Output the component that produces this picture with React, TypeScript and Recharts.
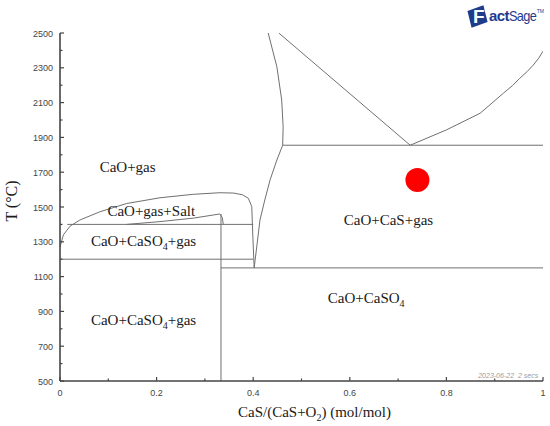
import { ComposedChart, XAxis, YAxis, Line, Scatter, Label } from "recharts";

// x = CaS/(CaS+O2) (mol/mol), y = T (°C)

// big dome, CaO+gas / CaO+gas+Salt boundary
const domeCurve = [
  { x: 0, y: 1270 },
  { x: 0.007, y: 1340 },
  { x: 0.021, y: 1390 },
  { x: 0.041, y: 1425 },
  { x: 0.083, y: 1473 },
  { x: 0.138, y: 1520 },
  { x: 0.207, y: 1553 },
  { x: 0.276, y: 1573 },
  { x: 0.331, y: 1582 },
  { x: 0.36, y: 1580 },
  { x: 0.378, y: 1570 },
  { x: 0.39, y: 1550 },
  { x: 0.397, y: 1502 },
  { x: 0.399, y: 1350 },
  { x: 0.402, y: 1150 },
];

// small salt wedge on top of the 1400 line
const saltCurve = [
  { x: 0.138, y: 1400 },
  { x: 0.207, y: 1416 },
  { x: 0.276, y: 1436 },
  { x: 0.331, y: 1460 },
  { x: 0.336, y: 1440 },
  { x: 0.338, y: 1400 },
];

// steep CaS-side curve from the top down to the 1150 invariant
const steepCurve = [
  { x: 0.431, y: 2500 },
  { x: 0.449, y: 2306 },
  { x: 0.459, y: 2115 },
  { x: 0.462, y: 1961 },
  { x: 0.461, y: 1855 },
  { x: 0.449, y: 1770 },
  { x: 0.435, y: 1656 },
  { x: 0.424, y: 1540 },
  { x: 0.414, y: 1425 },
  { x: 0.409, y: 1310 },
  { x: 0.404, y: 1195 },
  { x: 0.402, y: 1150 },
];

const vLeft = [
  { x: 0.453, y: 2500 },
  { x: 0.725, y: 1855 },
];

const vRight = [
  { x: 0.725, y: 1855 },
  { x: 0.8, y: 1943 },
  { x: 0.87, y: 2039 },
  { x: 0.918, y: 2154 },
  { x: 0.937, y: 2198 },
  { x: 0.952, y: 2240 },
  { x: 0.967, y: 2278 },
  { x: 0.98, y: 2316 },
  { x: 0.991, y: 2355 },
  { x: 1, y: 2395 },
];

const line1855 = [
  { x: 0.461, y: 1855 },
  { x: 1, y: 1855 },
];
const line1400 = [
  { x: 0.015, y: 1400 },
  { x: 0.4, y: 1400 },
];
const line1200 = [
  { x: 0, y: 1200 },
  { x: 0.4, y: 1200 },
];
const line1150 = [
  { x: 0.3333, y: 1150 },
  { x: 1, y: 1150 },
];
const lineThird = [
  { x: 0.3333, y: 500 },
  { x: 0.3333, y: 1460 },
];

const boundaries = [
  domeCurve,
  saltCurve,
  steepCurve,
  vLeft,
  vRight,
  line1855,
  line1400,
  line1200,
  line1150,
  lineThird,
];

const regionLabels = [
  { x: 0.14, y: 1703, text: "CaO+gas" },
  { x: 0.189, y: 1448, text: "CaO+gas+Salt" },
  { x: 0.173, y: 1276, text: "CaO+CaSO4+gas" },
  { x: 0.173, y: 822, text: "CaO+CaSO4+gas" },
  { x: 0.68, y: 1397, text: "CaO+CaS+gas" },
  { x: 0.634, y: 948, text: "CaO+CaSO4" },
];

const marker = [{ x: 0.74, y: 1655 }];
const stamp = [{ x: 0.99, y: 517, text: "2023-06-22  2 secs" }];

const xMajor = [0, 0.2, 0.4, 0.6, 0.8, 1];
const xLabels = ["0", "0.2", "0.4", "0.6", "0.8", "1"];
const xMinor = [0.1, 0.3, 0.5, 0.7, 0.9];
const yMajor = [500, 700, 900, 1100, 1300, 1500, 1700, 1900, 2100, 2300, 2500];
const yMinor = [600, 800, 1000, 1200, 1400, 1600, 1800, 2000, 2200, 2400];

const xTicks = [...xMajor, ...xMinor].sort((a, b) => a - b);
const yTicks = [...yMajor, ...yMinor].sort((a, b) => a - b);

const AXIS = "#454545";
const CURVE = "#707070";
const SERIF = '"Liberation Serif", "Times New Roman", serif';
const SANS = '"Liberation Sans", Arial, sans-serif';

// digits after a letter become subscripts (CaSO4, O2)
function chem(s: string) {
  const parts = s.split(/(\d+)/).filter(Boolean);
  let shifted = false;
  return parts.map((p, i) => {
    if (/^\d+$/.test(p)) {
      shifted = true;
      return (
        <tspan key={i} dy={4} fontSize={10}>
          {p}
        </tspan>
      );
    }
    if (shifted) {
      shifted = false;
      return (
        <tspan key={i} dy={-4}>
          {p}
        </tspan>
      );
    }
    return <tspan key={i}>{p}</tspan>;
  });
}

const BottomTick = ({ x, y, payload }: any) => {
  const i = xMajor.indexOf(payload.value);
  const len = i >= 0 ? 4 : 2.5;
  return (
    <g>
      <line x1={x} x2={x} y1={y} y2={y - len} stroke={AXIS} strokeWidth={1.2} />
      {i >= 0 && (
        <text x={x} y={y + 14.5} textAnchor="middle" fontSize={9} fill="#444" fontFamily={SANS}>
          {xLabels[i]}
        </text>
      )}
    </g>
  );
};

const TopTick = ({ x, y, payload }: any) => {
  const len = xMajor.includes(payload.value) ? 4 : 2.5;
  return <line x1={x} x2={x} y1={y} y2={y + len} stroke={AXIS} strokeWidth={1.2} />;
};

const LeftTick = ({ x, y, payload }: any) => {
  const major = yMajor.includes(payload.value);
  return (
    <g>
      <line x1={x} x2={x + (major ? 4 : 2.5)} y1={y} y2={y} stroke={AXIS} strokeWidth={1.2} />
      {major && (
        <text x={x - 7} y={y + 3.5} textAnchor="end" fontSize={9} fill="#444" fontFamily={SANS}>
          {payload.value}
        </text>
      )}
    </g>
  );
};

const RightTick = ({ x, y, payload }: any) => {
  const len = yMajor.includes(payload.value) ? 4 : 2.5;
  return <line x1={x} x2={x - len} y1={y} y2={y} stroke={AXIS} strokeWidth={1.2} />;
};

const XTitle = ({ viewBox }: any) => (
  <text
    x={viewBox.x + viewBox.width / 2 + 13}
    y={viewBox.y + 36}
    textAnchor="middle"
    fontSize={15}
    fontFamily={SERIF}
    fill="#1a1a1a"
  >
    {chem("CaS/(CaS+O2) (mol/mol)")}
  </text>
);

const YTitle = ({ viewBox }: any) => {
  const cx = viewBox.x + 17;
  const cy = viewBox.y + viewBox.height / 2 - 6;
  return (
    <text
      x={cx}
      y={cy}
      transform={`rotate(-90, ${cx}, ${cy})`}
      textAnchor="middle"
      fontSize={16}
      fontFamily={SERIF}
      fill="#1a1a1a"
    >
      T (°C)
    </text>
  );
};

const RegionText = ({ cx, cy, payload }: any) => (
  <text x={cx} y={cy} textAnchor="middle" fontSize={15} fontFamily={SERIF} fill="#1a1a1a">
    {chem(payload.text)}
  </text>
);

const StampText = ({ cx, cy, payload }: any) => (
  <text
    x={cx}
    y={cy}
    textAnchor="end"
    fontSize={7}
    fontStyle="italic"
    fontFamily={SANS}
    fill="#9a9a9a"
    xmlSpace="preserve"
    style={{ whiteSpace: "pre" }}
  >
    {payload.text}
  </text>
);

const RedDot = ({ cx, cy }: any) => <circle cx={cx} cy={cy} r={12} fill="#ff0000" />;

function Logo() {
  const blue = "#1f3c8c";
  return (
    <div
      style={{
        position: "absolute",
        left: 467,
        top: 3,
        height: 25,
        display: "flex",
        alignItems: "center",
        fontFamily: SANS,
        color: blue,
      }}
    >
      <div style={{ position: "relative", width: 22, height: 24 }}>
        <div
          style={{
            position: "absolute",
            left: 2,
            top: 4,
            width: 17,
            height: 17,
            background: blue,
            transform: "rotate(-20deg) skewX(-6deg)",
          }}
        />
        <span
          style={{
            position: "absolute",
            left: 6,
            top: 1,
            fontSize: 19,
            fontWeight: 700,
            color: "#fff",
            lineHeight: "24px",
          }}
        >
          F
        </span>
      </div>
      <span style={{ fontSize: 15, fontWeight: 700, letterSpacing: -0.6 }}>act</span>
      <span style={{ fontSize: 15, letterSpacing: -0.8, display: "inline-block", transform: "scaleX(0.85)", transformOrigin: "left" }}>
        Sage
      </span>
      <span style={{ fontSize: 5, alignSelf: "flex-start", marginTop: 5, marginLeft: -4 }}>TM</span>
    </div>
  );
}

export default function App() {
  return (
    <div style={{ position: "absolute", left: 0, top: 0, width: 550, height: 426, background: "#fff" }}>
      <ComposedChart width={550} height={426} margin={{ top: 33, right: 7, left: 0, bottom: 0 }}>
        <XAxis
          type="number"
          dataKey="x"
          domain={[0, 1]}
          ticks={xTicks}
          interval={0}
          height={45}
          tickSize={0}
          tickMargin={0}
          tickLine={false}
          tick={<BottomTick />}
          axisLine={{ stroke: AXIS, strokeWidth: 1.6 }}
          allowDataOverflow
        >
          <Label content={<XTitle />} />
        </XAxis>
        <XAxis
          xAxisId="top"
          orientation="top"
          type="number"
          dataKey="x"
          domain={[0, 1]}
          ticks={xTicks}
          interval={0}
          height={0}
          tickSize={0}
          tickMargin={0}
          tickLine={false}
          tick={<TopTick />}
          axisLine={{ stroke: AXIS, strokeWidth: 1.6 }}
          allowDataOverflow
        />
        <YAxis
          type="number"
          dataKey="y"
          domain={[500, 2500]}
          ticks={yTicks}
          interval={0}
          width={60}
          tickSize={0}
          tickMargin={0}
          tickLine={false}
          tick={<LeftTick />}
          axisLine={{ stroke: AXIS, strokeWidth: 1.6 }}
          allowDataOverflow
        >
          <Label content={<YTitle />} />
        </YAxis>
        <YAxis
          yAxisId="right"
          orientation="right"
          type="number"
          dataKey="y"
          domain={[500, 2500]}
          ticks={yTicks}
          interval={0}
          width={0}
          tickSize={0}
          tickMargin={0}
          tickLine={false}
          tick={<RightTick />}
          axisLine={{ stroke: AXIS, strokeWidth: 1.6 }}
          allowDataOverflow
        />

        {/* keeps the mirror axes bound to a series */}
        <Line
          xAxisId="top"
          yAxisId="right"
          data={[
            { x: 0, y: 500 },
            { x: 1, y: 2500 },
          ]}
          dataKey="y"
          stroke="none"
          dot={false}
          activeDot={false}
          isAnimationActive={false}
        />

        {boundaries.map((d, i) => (
          <Line
            key={i}
            data={d}
            dataKey="y"
            type="linear"
            stroke={CURVE}
            strokeWidth={1}
            dot={false}
            activeDot={false}
            isAnimationActive={false}
          />
        ))}

        <Scatter data={regionLabels} dataKey="y" shape={<RegionText />} isAnimationActive={false} />
        <Scatter data={stamp} dataKey="y" shape={<StampText />} isAnimationActive={false} />
        <Scatter data={marker} dataKey="y" shape={<RedDot />} isAnimationActive={false} />
      </ComposedChart>
      <Logo />
    </div>
  );
}
